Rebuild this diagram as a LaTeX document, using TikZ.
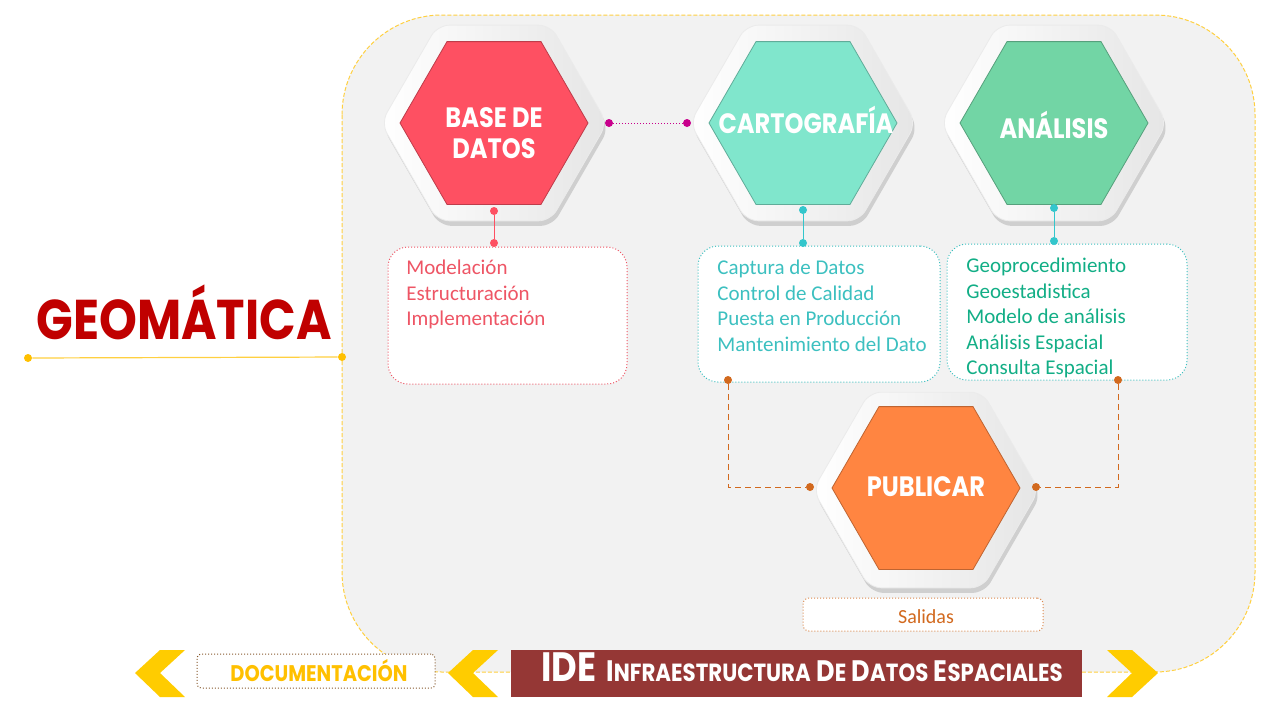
\documentclass[tikz,border=0pt]{standalone}
\usepackage{fontspec}
\setmainfont{Carlito}
\newfontfamily\titlefont[FakeStretch=0.86]{Poppins}
\usetikzlibrary{shapes.geometric,shadows,calc}
\definecolor{bdred}{HTML}{FE5062}
\definecolor{cartoc}{HTML}{80E6CC}
\definecolor{analc}{HTML}{72D5A5}
\definecolor{pubc}{HTML}{FF8541}
\definecolor{geored}{HTML}{C00000}
\definecolor{idebar}{HTML}{953735}
\definecolor{chev}{HTML}{FFCC00}
\definecolor{doctext}{HTML}{FFC000}
\definecolor{redtext}{HTML}{EE5565}
\definecolor{tealtext}{HTML}{3CC0C0}
\definecolor{greentext}{HTML}{12AE86}
\definecolor{orangetxt}{HTML}{D2691E}
\definecolor{magc}{HTML}{C8008C}
\definecolor{tealdot}{HTML}{33C6CC}
\definecolor{framey}{HTML}{FFD040}
\definecolor{panel}{HTML}{F2F2F2}
\begin{document}
\begin{tikzpicture}[x=0.5pt,y=-0.5pt,
  hexout/.style={regular polygon, regular polygon sides=6, minimum size=113pt,
    inner sep=0pt, rounded corners=6pt, draw=black!8, left color=white, right color=black!10,
    drop shadow={shadow xshift=1pt, shadow yshift=-2.5pt, opacity=0.3}},
  hexin/.style={regular polygon, regular polygon sides=6, minimum size=94pt,
    inner sep=0pt, fill=#1, draw=#1!75!black, line width=0.4pt},
  hextitle/.style={text=white, align=center, inner sep=0pt,
    font=\titlefont\bfseries\fontsize{14pt}{15.5pt}\selectfont},
  infobox/.style={rectangle, rounded corners=10pt, fill=white, draw=#1,
    densely dotted, line width=0.5pt},
  bodytext/.style={anchor=north west, align=left, inner sep=0pt, text=#1,
    font=\fontsize{10.5pt}{12.75pt}\selectfont},
  dot/.style={circle, fill=#1, inner sep=0pt, minimum size=4pt},
  link/.style={draw=#1, line width=0.5pt},
]
\useasboundingbox (0,0) rectangle (1280,720);
\fill[white] (0,0) rectangle (1280,720);

% panel
\draw[fill=panel, draw=framey, dash pattern=on 2pt off 1pt, line width=0.5pt,
  rounded corners=50pt] (342,15) rectangle (1255,672);

% title
\node[text=geored, inner sep=0pt,
  font=\titlefont\bfseries\fontsize{28pt}{30pt}\selectfont] (geo) at (184,312) {GEOMÁTICA};
\node[dot=doctext] (g1) at (28,358) {};
\node[dot=doctext] (g2) at (342,357) {};
\draw[link=framey, line width=0.6pt] (g1) -- (g2);

% hexagons
\node[hexout] (bdO) at (494,123) {};
\node[hexin=bdred] (bd) at (494,123) {};
\node[hextitle] (bdt) at (494,133) {BASE DE\\DATOS};

\node[hexout] (caO) at (803,123) {};
\node[hexin=cartoc] (ca) at (803,123) {};
\node[hextitle] (cat) at (806,120) {CARTOGRAFÍA};

\node[hexout] (anO) at (1054,123) {};
\node[hexin=analc] (an) at (1054,123) {};
\node[hextitle] (ant) at (1054,125) {ANÁLISIS};

\node[hexout] (puO) at (926,490) {};
\node[hexin=pubc] (pu) at (926,488) {};
\node[hextitle] (put) at (926,487) {PUBLICAR};

% info boxes
\node[infobox=redtext, minimum width=119.5pt, minimum height=68.5pt] (rb) at (507.5,315.5) {};
\node[bodytext=redtext] (rbt) at (406,260) {Modelación\\Estructuración\\Implementación};

\node[infobox=tealtext, minimum width=121pt, minimum height=68pt] (tb) at (819,314) {};
\node[bodytext=tealtext] (tbt) at (717,260) {Captura de Datos\\Control de Calidad\\Puesta en Producción\\Mantenimiento del Dato};

\node[infobox=tealtext, minimum width=120pt, minimum height=68pt] (ab) at (1067,312) {};
\node[bodytext=greentext] (abt) at (966,258) {Geoprocedimiento\\Geoestadistica\\Modelo de análisis\\Análisis Espacial\\Consulta Espacial};

\node[rectangle, rounded corners=3pt, fill=white, draw=orangetxt!80, densely dotted, line width=0.5pt,
  minimum width=120pt, minimum height=16.5pt] (sb) at (923,614.5) {};
\node[text=orangetxt, inner sep=0pt, font=\fontsize{10pt}{12pt}\selectfont] (sbt) at (926,617) {Salidas};

% connectors
\node[dot=magc] (m1) at (609,123) {};
\node[dot=magc] (m2) at (687,123) {};
\draw[link=magc, densely dotted] (m1) -- (m2);

\node[dot=bdred] (r1) at (494,211) {};
\node[dot=bdred] (r2) at (494,243) {};
\draw[link=bdred] (r1) -- (r2);

\node[dot=tealdot] (t1) at (803,210) {};
\node[dot=tealdot] (t2) at (803,243) {};
\draw[link=tealdot] (t1) -- (t2);

\node[dot=tealdot] (a1) at (1054,208) {};
\node[dot=tealdot] (a2) at (1054,241) {};
\draw[link=tealdot] (a1) -- (a2);

\node[dot=orangetxt] (o1) at (728,380) {};
\node[dot=orangetxt] (o2) at (810,487) {};
\node[dot=orangetxt] (o3) at (1118,380) {};
\node[dot=orangetxt] (o4) at (1036,487) {};
\draw[link=orangetxt, densely dashed] (o1) |- (o2);
\draw[link=orangetxt, densely dashed] (o3) |- (o4);

% bottom band
\fill[chev] (160,650) -- (185,650) -- (160,673) -- (185,697) -- (160,697) -- (135,673) -- cycle;
\fill[chev] (473,650) -- (498,650) -- (473,673) -- (498,697) -- (473,697) -- (448,673) -- cycle;
\fill[chev] (1107,650) -- (1132,650) -- (1158,673) -- (1132,697) -- (1107,697) -- (1132,673) -- cycle;

\node[rectangle, rounded corners=2pt, fill=white, draw=brown!70!black, densely dotted, line width=0.5pt,
  minimum width=119pt, minimum height=17pt] (doc) at (316,671) {};
\node[text=doctext, inner sep=0pt, font=\titlefont\bfseries\fontsize{11.3pt}{12pt}\selectfont] (doct) at (319,671) {DOCUMENTACIÓN};

\node[rectangle, fill=idebar, minimum width=285.5pt, minimum height=23.5pt, inner sep=0pt] (ide) at (796.5,673.5) {};
\node[text=white, inner sep=0pt, font=\titlefont\bfseries] (idet) at (802,667)
  {{\fontsize{20.5pt}{22pt}\selectfont IDE}\hspace{5pt}{\fontsize{14.8pt}{16pt}\selectfont I{\fontsize{12.4pt}{14pt}\selectfont NFRAESTRUCTURA} D{\fontsize{12.4pt}{14pt}\selectfont E} D{\fontsize{12.4pt}{14pt}\selectfont ATOS} E{\fontsize{12.4pt}{14pt}\selectfont SPACIALES}}};
\end{tikzpicture}
\end{document}
